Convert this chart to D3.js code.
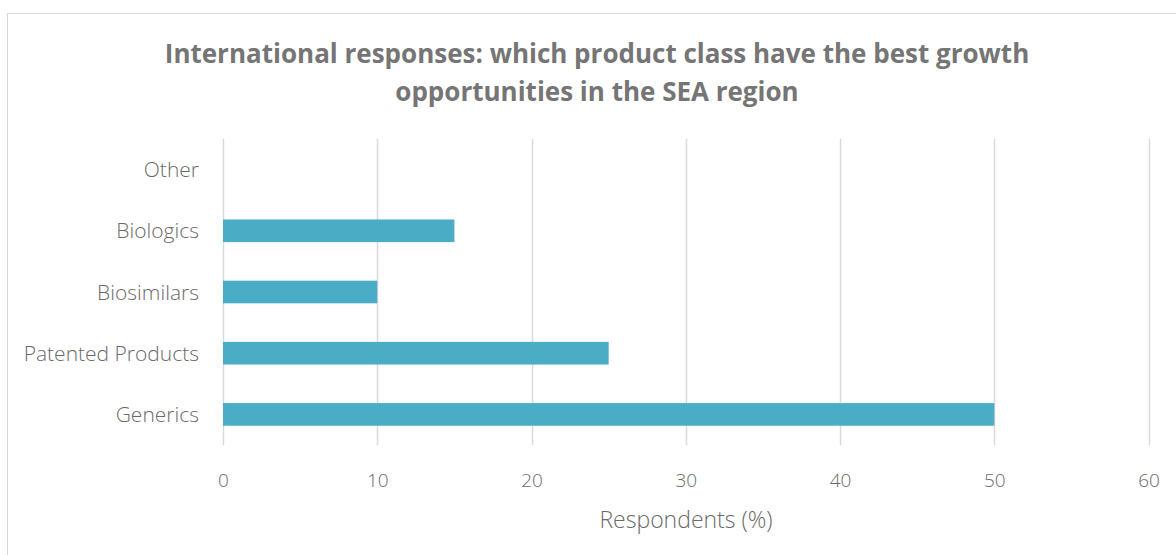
<!DOCTYPE html>
<html>
<head>
<meta charset="utf-8">
<script src="https://cdn.jsdelivr.net/npm/d3@7"></script>
<style>
  html, body { margin: 0; padding: 0; background: #fff; }
  svg { display: block; }
</style>
</head>
<body>
<svg id="chart" width="1176" height="555"></svg>
<script>
// Survey categories (top to bottom) and share of respondents (%)
const categories = ["Other", "Biologics", "Biosimilars", "Patented Products", "Generics"];
const values = [0, 15, 10, 25, 50];
const xTicks = [0, 10, 20, 30, 40, 50, 60];
const titleLines = [
  "International responses: which product class have the best growth",
  "opportunities in the SEA region"
];
const axisTitle = "Respondents (%)";

const svg = d3.select("#chart");
const W = 1176, H = 555;
const font = "'Open Sans', 'Noto Sans', sans-serif";
const labelColor = "#6a6a6a";

// Chart area frame
svg.append("rect")
  .attr("x", 7.5).attr("y", 13.5)
  .attr("width", W).attr("height", H)
  .attr("fill", "#fff")
  .attr("stroke", "#d9d9d9").attr("stroke-width", 1);

const plot = { left: 223, right: 1148.6, top: 139, bottom: 445 };

const x = d3.scaleLinear().domain([0, 60]).range([plot.left, plot.right]);
const y = d3.scaleBand().domain(categories)
  .range([plot.top, plot.bottom])
  .paddingInner(0.63).paddingOuter(0.315);

// Vertical gridlines
svg.append("g")
  .selectAll("line")
  .data(xTicks)
  .join("line")
  .attr("x1", d => Math.round(x(d)) + 0.5)
  .attr("x2", d => Math.round(x(d)) + 0.5)
  .attr("y1", plot.top).attr("y2", plot.bottom)
  .attr("stroke", "#d9d9d9").attr("stroke-width", 1.5);

// Bars
svg.append("g")
  .selectAll("rect")
  .data(categories.map((c, i) => ({ c, v: values[i] })))
  .join("rect")
  .attr("x", x(0))
  .attr("y", d => y(d.c))
  .attr("width", d => x(d.v) - x(0))
  .attr("height", y.bandwidth())
  .attr("fill", "#4bacc6");

// Category axis labels
const yAxis = d3.axisLeft(y).tickSize(0).tickPadding(0);
const gy = svg.append("g").attr("transform", `translate(${plot.left - 24},0)`).call(yAxis);
gy.select(".domain").remove();
gy.selectAll("text")
  .attr("dy", "0.36em")
  .attr("font-family", font).attr("font-weight", 300)
  .attr("font-size", 21).attr("fill", labelColor);

// Value axis labels
const xAxis = d3.axisBottom(x).tickValues(xTicks).tickSize(0).tickPadding(0);
const gx = svg.append("g").attr("transform", `translate(0,${plot.bottom + 28})`).call(xAxis);
gx.select(".domain").remove();
gx.selectAll("text")
  .attr("font-family", font).attr("font-weight", 300)
  .attr("font-size", 19).attr("fill", labelColor);

// Axis title
svg.append("text")
  .attr("x", 686).attr("y", 528)
  .attr("text-anchor", "middle")
  .attr("font-family", font).attr("font-weight", 300)
  .attr("font-size", 23).attr("fill", labelColor)
  .text(axisTitle);

// Chart title
svg.append("g")
  .selectAll("text")
  .data(titleLines)
  .join("text")
  .attr("x", 597).attr("y", (d, i) => 63 + i * 38)
  .attr("text-anchor", "middle")
  .attr("font-family", font).attr("font-weight", 700)
  .attr("font-size", 26).attr("fill", "#757575")
  .text(d => d);
</script>
</body>
</html>
